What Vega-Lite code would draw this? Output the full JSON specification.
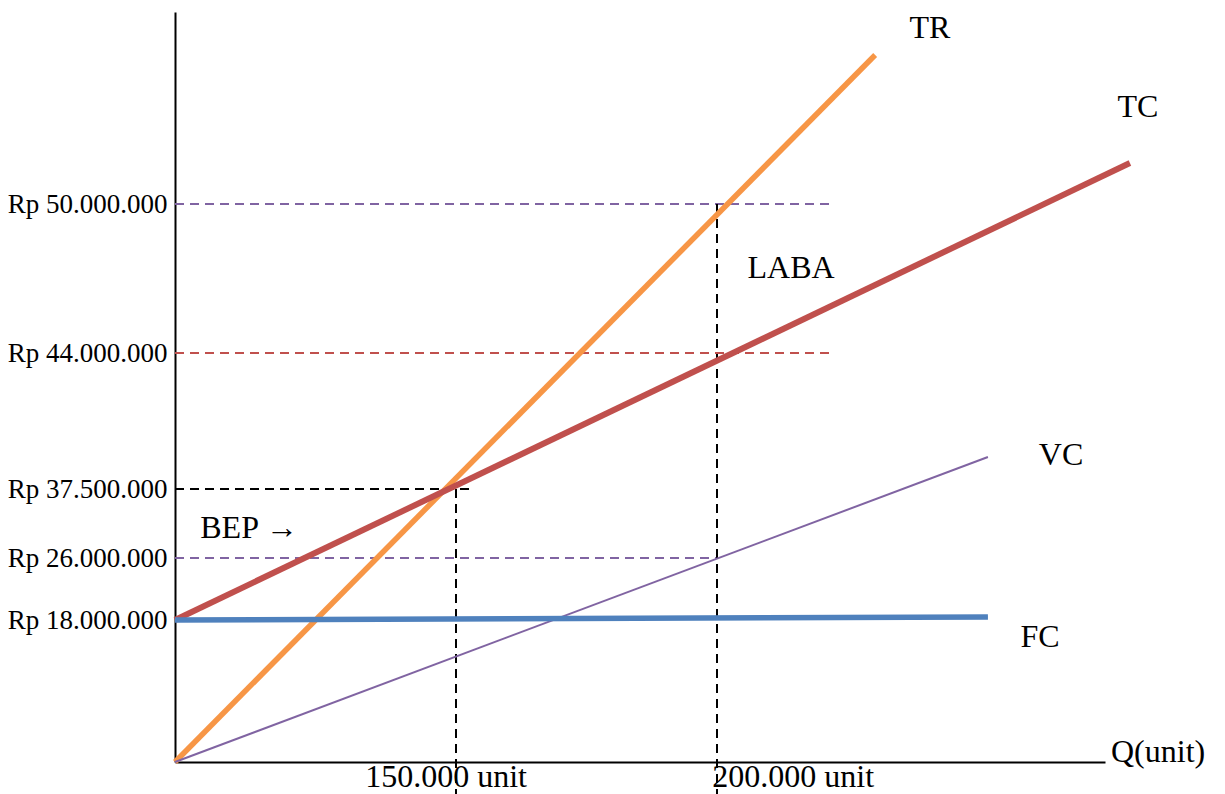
{
  "$schema": "https://vega.github.io/schema/vega-lite/v6.json",
  "width": 930,
  "height": 750,
  "autosize": {"type": "none"},
  "padding": {"left": 175, "top": 12, "right": 120, "bottom": 32},
  "background": "white",
  "config": {"view": {"stroke": null}},
  "datasets": {
    "lines": [
      {"series": "TR", "q": 0, "rp": 0},
      {"series": "TR", "q": 230300, "rp": 56000000},
      {"series": "TC", "q": 0, "rp": 18000000},
      {"series": "TC", "q": 279100, "rp": 51650000},
      {"series": "FC", "q": 0, "rp": 18000000},
      {"series": "FC", "q": 251900, "rp": 18390000},
      {"series": "VC", "q": 0, "rp": 0},
      {"series": "VC", "q": 251900, "rp": 39030000}
    ],
    "hguides": [
      {"guide": "g50", "q0": 0, "q1": 222600, "rp": 50000000},
      {"guide": "g44", "q0": 0, "q1": 222200, "rp": 44000000},
      {"guide": "g37", "q0": 0, "q1": 152700, "rp": 37500000},
      {"guide": "g26", "q0": 0, "q1": 200000, "rp": 26000000}
    ],
    "vguides": [
      {"q": 150000, "rp0": 37500000, "rp1": -4060000},
      {"q": 200000, "rp0": 50000000, "rp1": -4060000}
    ],
    "labels": [
      {"label": "TR", "q": 240800, "rp": 57090000},
      {"label": "TC", "q": 280650, "rp": 53900000},
      {"label": "LABA", "q": 214200, "rp": 47420000},
      {"label": "VC", "q": 265900, "rp": 39130000},
      {"label": "FC", "q": 261900, "rp": 15850000},
      {"label": "BEP  →", "q": 39500, "rp": 31000000},
      {"label": "Q(unit)", "q": 284500, "rp": 1270000},
      {"label": "150.000 unit", "q": 144700, "rp": -1900000},
      {"label": "200.000 unit", "q": 214600, "rp": -1900000}
    ]
  },
  "layer": [
    {
      "data": {"name": "hguides"},
      "mark": {"type": "rule", "strokeWidth": 2, "strokeDash": [9, 6]},
      "encoding": {
        "x": {
          "field": "q0", "type": "quantitative",
          "scale": {"domain": [0, 150000, 200000, 274330], "range": [0, 281, 542, 930], "zero": false, "nice": false},
          "axis": {"title": null, "labels": false, "ticks": false, "grid": false, "domainColor": "black", "domainWidth": 2}
        },
        "x2": {"field": "q1"},
        "y": {
          "field": "rp", "type": "quantitative",
          "scale": {"domain": [0, 18000000, 26000000, 37500000, 44000000, 50000000, 57730000], "range": [750, 608, 546, 477, 341, 192, 0], "zero": false, "nice": false},
          "axis": {
            "title": null, "grid": false, "ticks": false,
            "values": [18000000, 26000000, 37500000, 44000000, 50000000],
            "labelExpr": "'Rp ' + replace(format(datum.value, ','), regexp(',', 'g'), '.')",
            "labelFont": "Liberation Serif", "labelFontSize": 27, "labelColor": "black",
            "labelPadding": 8, "domainColor": "black", "domainWidth": 2
          }
        },
        "color": {
          "field": "guide", "type": "nominal", "legend": null,
          "scale": {"domain": ["g50", "g44", "g37", "g26"], "range": ["#8064a2", "#c0504d", "#000000", "#8064a2"]}
        }
      }
    },
    {
      "data": {"name": "vguides"},
      "mark": {"type": "rule", "strokeWidth": 2, "strokeDash": [9, 6], "color": "black"},
      "encoding": {
        "x": {"field": "q", "type": "quantitative"},
        "y": {"field": "rp0", "type": "quantitative"},
        "y2": {"field": "rp1"}
      }
    },
    {
      "data": {"name": "lines"},
      "transform": [{"filter": "datum.series === 'TR'"}],
      "mark": {"type": "line", "strokeWidth": 5.5, "color": "#f79646", "strokeCap": "butt"},
      "encoding": {
        "x": {"field": "q", "type": "quantitative"},
        "y": {"field": "rp", "type": "quantitative"}
      }
    },
    {
      "data": {"name": "lines"},
      "transform": [{"filter": "datum.series === 'VC'"}],
      "mark": {"type": "line", "strokeWidth": 2, "color": "#8064a2", "strokeCap": "butt"},
      "encoding": {
        "x": {"field": "q", "type": "quantitative"},
        "y": {"field": "rp", "type": "quantitative"}
      }
    },
    {
      "data": {"name": "lines"},
      "transform": [{"filter": "datum.series === 'TC'"}],
      "mark": {"type": "line", "strokeWidth": 6, "color": "#c0504d", "strokeCap": "butt"},
      "encoding": {
        "x": {"field": "q", "type": "quantitative"},
        "y": {"field": "rp", "type": "quantitative"}
      }
    },
    {
      "data": {"name": "lines"},
      "transform": [{"filter": "datum.series === 'FC'"}],
      "mark": {"type": "line", "strokeWidth": 5.5, "color": "#4f81bd", "strokeCap": "butt"},
      "encoding": {
        "x": {"field": "q", "type": "quantitative"},
        "y": {"field": "rp", "type": "quantitative"}
      }
    },
    {
      "data": {"name": "labels"},
      "mark": {"type": "text", "font": "Liberation Serif", "fontSize": 32, "color": "black", "align": "center", "baseline": "middle"},
      "encoding": {
        "x": {"field": "q", "type": "quantitative"},
        "y": {"field": "rp", "type": "quantitative"},
        "text": {"field": "label"}
      }
    }
  ]
}
